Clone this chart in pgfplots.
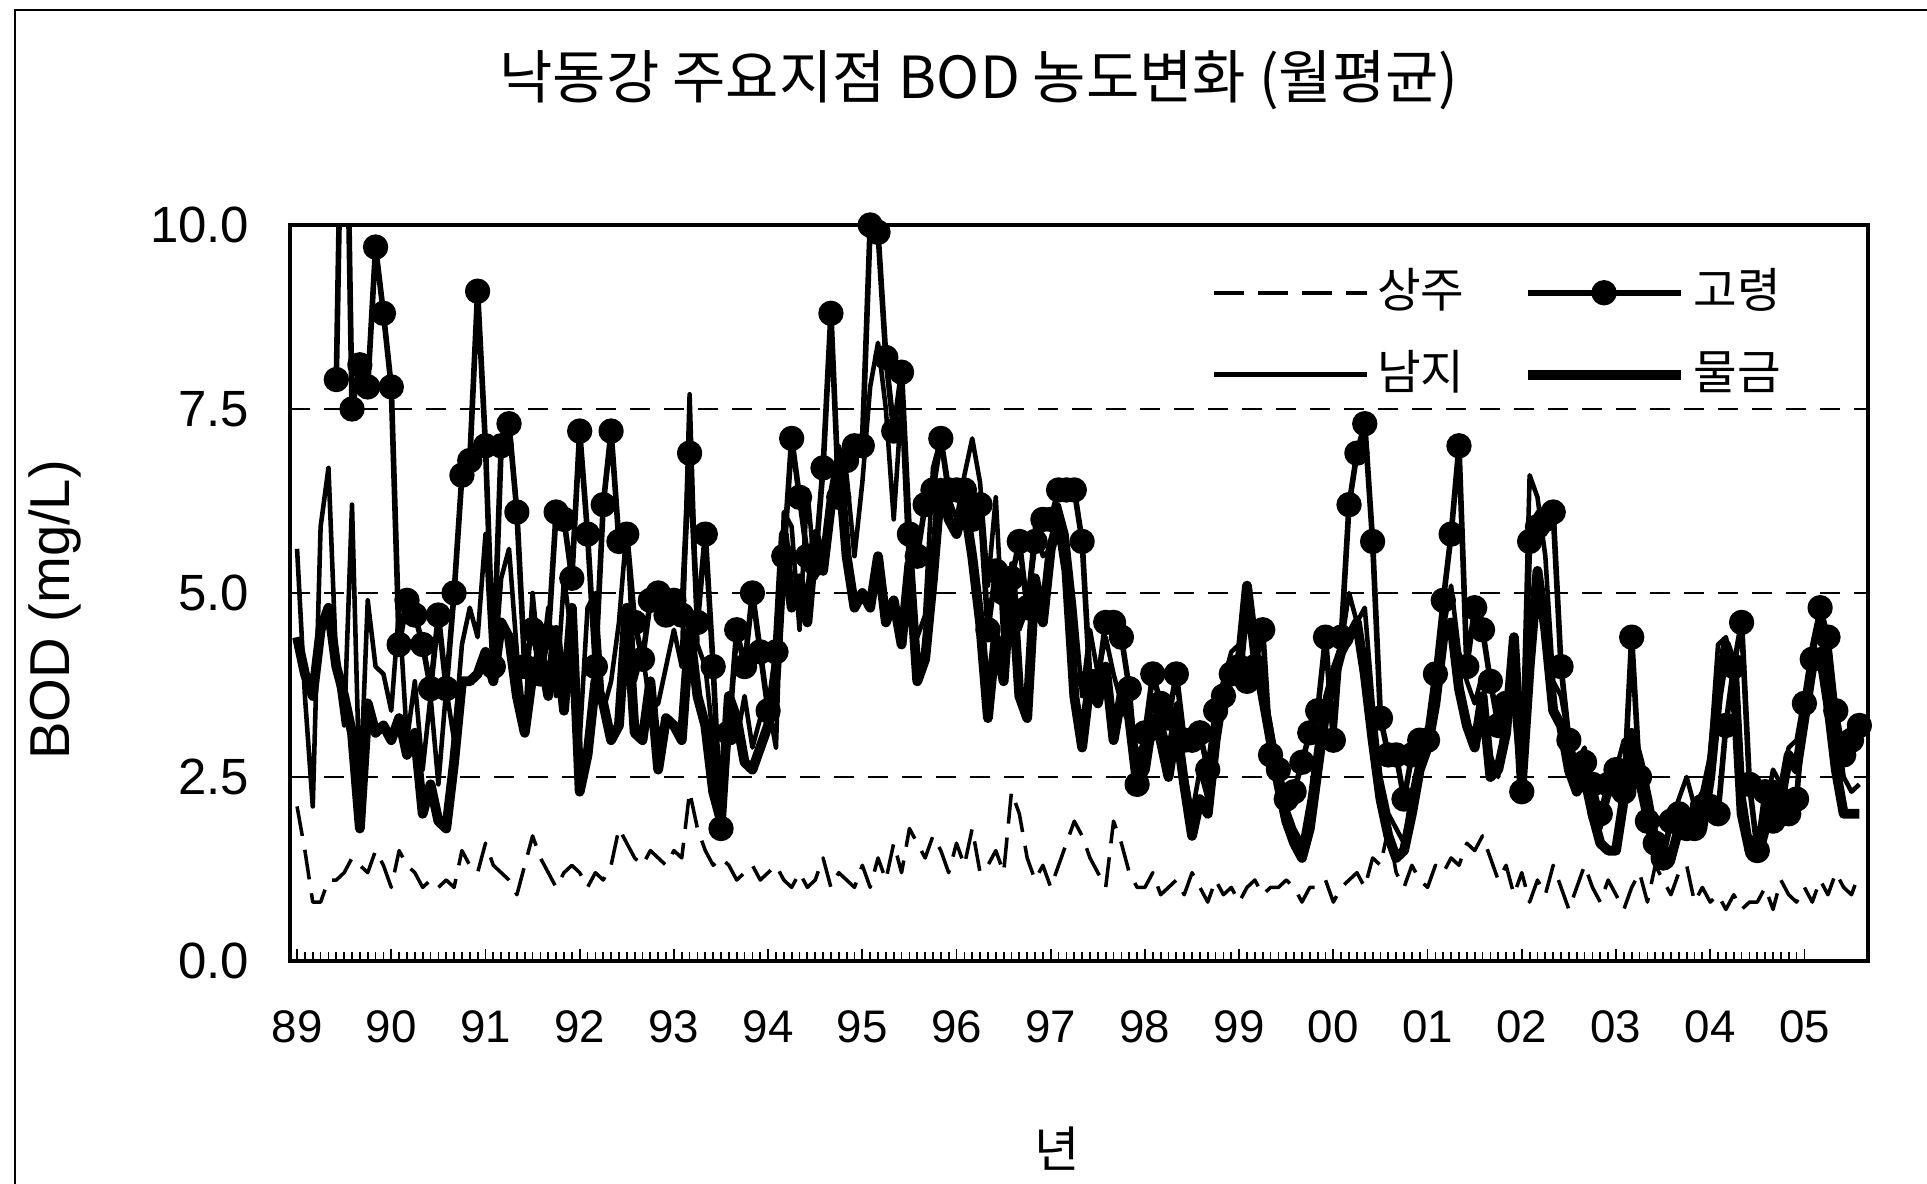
\documentclass[border=0pt]{standalone}
\usepackage{pgfplots}
\pgfplotsset{compat=1.18}
\usepackage{pgfplotstable}
\usepackage{fontspec}
\setmainfont{Liberation Sans}
\newfontfamily\kr{Noto Sans CJK KR}

% monthly means, Jan 1989 ... Aug 2005 (one line per year)
\pgfplotstableread[row sep=\\]{v\\
2.1\\1.5\\0.8\\0.8\\1.1\\1.1\\1.2\\1.4\\1.3\\1.2\\1.5\\1.3\\%
1.0\\1.5\\1.3\\1.2\\1.0\\1.1\\1.0\\1.1\\1.0\\1.5\\1.3\\1.2\\%
1.6\\1.3\\1.2\\1.1\\0.9\\1.3\\1.7\\1.4\\1.2\\1.0\\1.2\\1.3\\%
1.2\\1.0\\1.2\\1.1\\1.3\\1.8\\1.6\\1.4\\1.3\\1.5\\1.4\\1.3\\%
1.5\\1.4\\2.3\\1.8\\1.5\\1.3\\1.4\\1.3\\1.1\\1.2\\1.3\\1.1\\%
1.2\\1.3\\1.1\\1.0\\1.2\\1.0\\1.1\\1.4\\1.0\\1.2\\1.1\\1.0\\%
1.3\\1.0\\1.4\\1.1\\1.6\\1.2\\1.8\\1.6\\1.4\\1.7\\1.5\\1.2\\%
1.6\\1.3\\1.8\\1.2\\1.3\\1.5\\1.2\\2.3\\2.0\\1.4\\1.1\\1.3\\%
1.0\\1.3\\1.6\\1.9\\1.7\\1.4\\1.2\\1.0\\1.9\\1.6\\1.2\\1.0\\%
1.0\\1.2\\0.9\\1.0\\1.1\\0.9\\1.2\\1.0\\0.8\\1.1\\0.9\\1.0\\%
0.8\\1.0\\1.1\\0.9\\1.0\\1.0\\1.1\\1.0\\0.8\\1.0\\1.0\\1.1\\%
0.8\\1.0\\1.1\\1.2\\1.0\\1.4\\1.3\\1.8\\1.2\\1.0\\1.3\\1.1\\%
1.0\\1.3\\1.2\\1.4\\1.3\\1.6\\1.5\\1.7\\1.4\\1.1\\1.3\\0.9\\%
1.2\\0.8\\1.1\\0.9\\1.3\\1.0\\0.7\\1.0\\1.3\\1.0\\0.8\\1.1\\%
0.9\\0.7\\1.0\\1.2\\0.8\\1.3\\1.1\\0.9\\1.2\\1.3\\0.8\\1.0\\%
0.8\\0.9\\0.7\\0.9\\0.7\\0.8\\0.8\\1.0\\0.7\\1.1\\0.9\\0.8\\%
1.0\\0.8\\1.1\\0.9\\1.2\\1.0\\0.9\\1.2\\%
}\sangju

\pgfplotstableread[row sep=\\]{v\\
nan\\nan\\nan\\nan\\nan\\7.9\\14\\7.5\\8.1\\7.8\\9.7\\8.8\\%
7.8\\4.3\\4.9\\4.7\\4.3\\3.7\\4.7\\3.7\\5.0\\6.6\\6.8\\9.1\\%
7.0\\4.0\\7.0\\7.3\\6.1\\4.0\\4.5\\3.9\\4.4\\6.1\\6.0\\5.2\\%
7.2\\5.8\\4.0\\6.2\\7.2\\5.7\\5.8\\4.6\\4.1\\4.9\\5.0\\4.7\\%
4.9\\4.7\\6.9\\4.6\\5.8\\4.0\\1.8\\3.1\\4.5\\4.0\\5.0\\4.2\\%
3.4\\4.2\\5.5\\7.1\\6.3\\5.5\\5.4\\6.7\\8.8\\6.3\\6.8\\7.0\\%
7.0\\10.0\\9.9\\8.2\\7.2\\8.0\\5.8\\5.5\\6.2\\6.4\\7.1\\6.4\\%
6.4\\6.4\\6.0\\6.2\\4.5\\5.3\\5.0\\5.2\\5.7\\4.8\\5.7\\6.0\\%
6.0\\6.4\\6.4\\6.4\\5.7\\3.8\\3.8\\4.6\\4.6\\4.4\\3.7\\2.4\\%
3.1\\3.9\\3.5\\3.3\\3.9\\3.0\\3.0\\3.1\\2.6\\3.4\\3.6\\3.9\\%
4.0\\3.8\\4.0\\4.5\\2.8\\2.6\\2.2\\2.3\\2.7\\3.1\\3.4\\4.4\\%
3.0\\4.4\\6.2\\6.9\\7.3\\5.7\\3.3\\2.8\\2.8\\2.2\\2.8\\3.0\\%
3.0\\3.9\\4.9\\5.8\\7.0\\4.0\\4.8\\4.5\\3.8\\3.2\\3.5\\3.5\\%
2.3\\5.7\\5.9\\6.0\\6.1\\4.0\\3.0\\2.6\\2.7\\2.4\\2.0\\2.4\\%
2.6\\2.3\\4.4\\2.5\\1.9\\1.6\\1.4\\1.9\\2.0\\1.8\\1.8\\2.1\\%
2.1\\2.0\\3.2\\4.0\\4.6\\2.4\\1.5\\2.3\\1.9\\2.2\\2.0\\2.2\\%
3.5\\4.1\\4.8\\4.4\\3.4\\2.8\\3.0\\3.2\\%
}\goryeong

\pgfplotstableread[row sep=\\]{v\\
5.6\\3.6\\2.1\\5.9\\6.7\\4.0\\3.2\\6.2\\2.2\\4.9\\4.0\\3.9\\%
3.4\\4.8\\3.0\\3.8\\2.6\\3.6\\2.4\\3.7\\3.0\\4.3\\4.8\\4.4\\%
5.8\\3.8\\5.2\\5.6\\4.2\\3.2\\5.0\\3.9\\4.8\\3.6\\5.2\\4.4\\%
3.0\\4.8\\5.0\\3.4\\3.8\\4.6\\5.9\\3.8\\4.2\\3.4\\3.5\\4.0\\%
4.5\\4.0\\7.7\\4.3\\4.0\\3.0\\2.2\\3.2\\3.0\\3.6\\2.9\\3.3\\%
3.5\\2.9\\6.1\\5.9\\4.5\\6.4\\5.2\\5.4\\6.0\\7.0\\6.6\\5.5\\%
6.5\\7.8\\8.4\\7.5\\6.0\\7.6\\5.2\\4.4\\4.7\\6.7\\7.1\\6.3\\%
6.0\\6.6\\7.1\\6.5\\5.1\\6.3\\4.3\\5.4\\4.5\\4.8\\5.9\\5.5\\%
5.6\\6.2\\5.8\\4.8\\3.6\\4.5\\3.9\\4.4\\3.9\\3.5\\3.5\\2.8\\%
3.0\\3.6\\3.3\\2.9\\3.5\\2.6\\2.0\\2.6\\2.2\\3.3\\3.8\\4.2\\%
4.3\\4.6\\4.4\\3.8\\3.2\\2.6\\2.1\\1.8\\1.6\\2.2\\3.0\\3.6\\%
4.0\\4.3\\5.0\\4.6\\4.8\\3.5\\2.5\\2.0\\1.8\\1.6\\2.3\\2.8\\%
3.2\\4.0\\4.5\\5.1\\4.2\\3.8\\3.5\\3.9\\2.8\\2.5\\3.6\\4.0\\%
2.6\\6.6\\6.3\\5.5\\3.8\\3.6\\3.0\\2.7\\2.9\\2.4\\1.8\\2.2\\%
2.6\\3.0\\2.8\\2.3\\1.8\\1.4\\1.5\\1.9\\2.2\\2.5\\2.1\\2.3\\%
2.8\\4.3\\4.4\\3.9\\2.4\\1.7\\1.6\\2.0\\2.6\\2.4\\2.9\\3.0\\%
3.6\\4.3\\4.8\\3.9\\3.3\\2.5\\2.3\\2.4\\%
}\namji

\pgfplotstableread[row sep=\\]{v\\
4.4\\3.9\\3.6\\4.5\\4.8\\4.0\\3.6\\3.1\\1.8\\3.5\\3.1\\3.2\\%
3.0\\3.3\\2.8\\3.1\\2.0\\2.4\\1.9\\1.8\\2.7\\3.8\\3.8\\3.9\\%
4.2\\3.8\\4.6\\4.4\\3.6\\3.1\\3.9\\4.2\\3.6\\4.5\\3.4\\4.8\\%
2.3\\2.8\\3.8\\3.5\\3.0\\3.2\\4.8\\3.1\\3.0\\3.8\\2.6\\3.3\\%
3.2\\3.0\\4.5\\3.6\\3.2\\2.3\\1.9\\3.6\\3.3\\2.7\\2.6\\2.9\\%
3.2\\3.9\\5.8\\4.8\\5.2\\4.6\\5.8\\5.3\\6.2\\6.8\\5.5\\4.8\\%
5.0\\4.8\\5.5\\4.6\\4.9\\4.3\\5.4\\3.8\\4.1\\5.2\\6.5\\6.0\\%
5.8\\6.2\\5.5\\4.6\\3.3\\4.4\\3.8\\5.3\\3.6\\3.3\\5.2\\4.6\\%
5.6\\6.0\\5.3\\3.6\\2.9\\3.8\\3.5\\4.0\\3.0\\3.6\\3.3\\2.4\\%
2.6\\3.3\\3.0\\2.5\\3.2\\2.4\\1.7\\2.2\\2.0\\3.0\\3.7\\4.0\\%
4.0\\5.1\\4.2\\3.6\\3.0\\2.4\\1.9\\1.6\\1.4\\1.8\\2.6\\3.4\\%
3.8\\4.2\\4.4\\4.6\\3.9\\3.0\\2.2\\1.7\\1.4\\1.5\\2.0\\2.6\\%
2.9\\3.5\\4.4\\4.6\\3.7\\3.2\\2.9\\3.6\\2.5\\2.6\\3.1\\4.4\\%
2.4\\4.0\\5.3\\4.5\\3.4\\3.2\\2.6\\2.3\\2.5\\2.0\\1.6\\1.5\\%
1.5\\2.2\\3.1\\2.7\\2.2\\1.6\\1.3\\1.4\\1.8\\2.0\\1.9\\1.8\\%
2.5\\3.6\\4.3\\4.0\\2.0\\1.5\\1.4\\1.8\\2.4\\2.2\\2.8\\2.6\\%
3.3\\4.0\\4.2\\3.5\\2.6\\2.0\\2.0\\2.0\\%
}\mulgeum

\begin{document}
\begin{tikzpicture}
\path[use as bounding box] (0,0) rectangle (192.7mm,118.4mm);
\draw[line width=0.7pt] (1.5mm,0) -- (1.5mm,117.4mm) -- (192.7mm,117.4mm);
\node[font=\kr\fontsize{16.5pt}{20pt}\selectfont] at (97.9mm,110.4mm) {낙동강 주요지점 BOD 농도변화 (월평균)};
\node[font=\fontsize{16pt}{18pt}\selectfont, rotate=90] at (5.5mm,57.4mm) {BOD (mg/L)};
\node[font=\kr\fontsize{14pt}{16pt}\selectfont] at (105.7mm,3.5mm) {년};
\begin{axis}[
  at={(29mm,22.3mm)}, anchor=south west,
  width=157.8mm, height=73.6mm, scale only axis,
  xmin=-0.9, xmax=200.1, ymin=0, ymax=10,
  xtick={0,12,...,192},
  xticklabels={89,90,91,92,93,94,95,96,97,98,99,00,01,02,03,04,05},
  minor x tick num=11,
  ytick={0,2.5,5,7.5,10},
  /pgf/number format/fixed,
  /pgf/number format/fixed zerofill,
  /pgf/number format/precision=1,
  /pgf/number format/assume math mode=true,
  tick align=inside, xtick pos=bottom, ytick pos=left,
  major tick length=1.2mm, minor tick length=0.9mm,
  every tick/.style={black, line width=0.5pt},
  ymajorgrids,
  grid style={dash pattern=on 2mm off 1.4mm, line width=0.5pt, black},
  axis line style={line width=1.2pt},
  xticklabel style={font=\fontsize{13pt}{15pt}\selectfont, inner sep=0pt, anchor=north, yshift=-4.9mm},
  yticklabel style={font=\fontsize{14.5pt}{16pt}\selectfont, inner sep=0pt, anchor=east, xshift=-4mm},
  legend columns=2,
  legend cell align=left,
  legend image code/.code={\draw[mark repeat=2,mark phase=2,#1] plot coordinates {(0mm,0mm) (7.65mm,0mm) (15.3mm,0mm)};},
  legend style={at={(0.5837,0.951)}, anchor=north west, draw=none, fill=none,
    inner sep=0pt, row sep=2mm,
    nodes={inner sep=0.8mm, text height=3.8mm, text depth=0.8mm, font=\kr\fontsize{13.5pt}{15pt}\selectfont},
    /tikz/every even column/.append style={column sep=5mm}},
  unbounded coords=jump,
]
\addplot[black, line width=1.0pt, line join=round, dash pattern=on 3mm off 1.4mm] table[x expr=\coordindex, y=v] {\sangju};
\addlegendentry{상주}
\addplot[black, line width=1.6pt, line join=round, mark=*, mark size=2.8pt, mark options={solid}] table[x expr=\coordindex, y=v] {\goryeong};
\addlegendentry{고령}
\addplot[black, line width=1.3pt, line join=round] table[x expr=\coordindex, y=v] {\namji};
\addlegendentry{남지}
\addplot[black, line width=2.8pt, line join=round] table[x expr=\coordindex, y=v] {\mulgeum};
\addlegendentry{물금}
\end{axis}
\end{tikzpicture}
\end{document}
